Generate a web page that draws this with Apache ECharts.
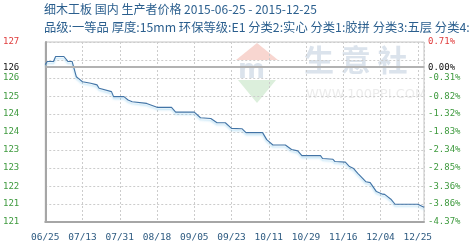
<!DOCTYPE html>
<html><head><meta charset="utf-8">
<script src="https://cdn.jsdelivr.net/npm/echarts@6/dist/echarts.min.js"></script>
<style>html,body{margin:0;padding:0;background:#fff}#c{width:471px;height:252px}</style>
</head><body><div id="c"></div>
<script>
const titleText = '细木工板 国内 生产者价格 2015-06-25 - 2015-12-25';
const subText = '品级:一等品 厚度:15mm 环保等级:E1 分类2:实心 分类1:胶拼 分类3:五层 分类4:';

// x: days since 2015-06-25
const xLabels = ['06/25','07/13','07/31','08/18','09/05','09/23','10/11','10/29','11/16','12/04','12/25'];
const days = [0,1,4,5,9,11,13,15,16,18,22,25,26,32,33,38,40,42,49,54,61,63,72,75,80,83,87,90,95,97,105,107,110,116,119,122,124,133,134,139,140,145,147,149,151,155,157,160,163,164,167,169,180,183];
const prices = [126.22,126.33,126.33,126.51,126.51,126.33,126.33,125.79,125.73,125.61,125.56,125.50,125.38,125.26,125.08,125.08,124.96,124.90,124.84,124.70,124.70,124.53,124.53,124.33,124.30,124.15,124.15,123.95,123.94,123.80,123.80,123.55,123.36,123.36,123.20,123.15,122.98,122.98,122.88,122.85,122.77,122.75,122.59,122.52,122.35,122.05,122.02,121.70,121.61,121.60,121.43,121.25,121.25,121.14];

// y tick labels
const basePrice = 126.13;
const baseLeftLabel = '126';
const baseRightLabel = '0.00%';
const labelPct = [-4.37,-3.86,-3.36,-2.85,-2.34,-1.83,-1.32,-0.82,-0.31,0.71];
const leftLabels = ['121','121','122','123','123','124','124','125','126','127'];
const rightLabels = ['-4.37%','-3.86%','-3.36%','-2.85%','-2.34%','-1.83%','-1.32%','-0.82%','-0.31%','0.71%'];
const pctMin = -4.37, pctMax = 0.71, gridSteps = 10;

const pMin = basePrice * (1 + pctMin / 100);
const pMax = basePrice * (1 + pctMax / 100);
const labelValues = labelPct.map(p => basePrice * (1 + p / 100));
const allLabelValues = labelValues.concat([basePrice]);

function labelFor(v, texts, baseText) {
  if (Math.abs(v - basePrice) < 1e-6) return '{b|' + baseText + '}';
  let best = 0, bd = Infinity;
  labelValues.forEach((lv, i) => { const d = Math.abs(lv - v); if (d < bd) { bd = d; best = i; } });
  const style = best === labelValues.length - 1 ? 'r' : 'g';
  return '{' + style + '|' + texts[best] + '}';
}
const monoFont = '"DejaVu Sans Mono", monospace';
const rich = {
  g: { color: '#3e9a3e', fontFamily: monoFont, fontSize: 9 },
  r: { color: '#e03c3c', fontFamily: monoFont, fontSize: 9 },
  b: { color: '#111', fontFamily: monoFont, fontSize: 9 }
};

const chart = echarts.init(document.getElementById('c'), null, { renderer: 'canvas' });
chart.setOption({
  animation: false,
  backgroundColor: '#fff',
  grid: { left: 44, right: 47, top: 42, height: 180, show: true, borderColor: '#c4c4c4', borderWidth: 1, backgroundColor: 'transparent' },
  graphic: [
    { type: 'text', left: 44, top: 3, z: 10, style: { text: titleText, fill: '#2b5f8e', font: '12px "Noto Sans CJK SC", sans-serif' } },
    { type: 'text', left: 44, top: 21, z: 10, style: { text: subText, fill: '#2b5f8e', font: '12.3px "Noto Sans CJK SC", sans-serif' } },
    // watermark
    { type: 'polygon', z: -1, shape: { points: [[257,43],[236,60],[278,60]] }, style: { fill: '#f8d6d0' } },
    { type: 'text', z: -1, x: 238, y: 58, style: { text: 'm', fill: '#dbe3ec', font: 'bold 26px "DejaVu Sans", sans-serif' } },
    { type: 'polygon', z: -1, shape: { points: [[238,80],[276,80],[257,103]] }, style: { fill: '#dcefdc' } },
    { type: 'text', z: -1, x: 304, y: 45, style: { text: '生 意 社', fill: '#dbe3ec', font: 'bold 30px "Noto Sans CJK SC", sans-serif' } },
    { type: 'text', z: -1, x: 306, y: 88, style: { text: 'WWW.100PPI.COM', fill: '#ececec', font: '13px "DejaVu Sans", sans-serif' } }
  ],
  xAxis: {
    type: 'value', min: 0, max: 183, interval: 18,
    axisLine: { show: true, lineStyle: { color: '#a6a6a6', width: 2 } },
    axisTick: { show: false },
    splitLine: { show: true, lineStyle: { color: '#cccccc', type: [2, 2], width: 1 } },
    axisLabel: {
      margin: 11, color: '#2d5a80', fontFamily: monoFont, fontSize: 9.5,
      showMinLabel: true, showMaxLabel: true,
      formatter: v => (v % 18 === 0 && xLabels[v / 18] !== undefined) ? xLabels[v / 18] : ''
    }
  },
  yAxis: [
    {
      type: 'value', min: pMin, max: pMax, position: 'left',
      axisLine: { show: true, lineStyle: { color: '#a6a6a6', width: 2 } },
      axisTick: { show: false }, splitLine: { show: false },
      axisLabel: { margin: 26, customValues: allLabelValues, formatter: v => labelFor(v, leftLabels, baseLeftLabel), rich: rich }
    },
    {
      type: 'value', min: pMin, max: pMax, position: 'right',
      axisLine: { show: false }, axisTick: { show: false }, splitLine: { show: false },
      axisLabel: { margin: 4, customValues: allLabelValues, formatter: v => labelFor(v, rightLabels, baseRightLabel), rich: rich }
    },
    {
      type: 'value', min: 0, max: gridSteps, interval: 1, position: 'left',
      axisLine: { show: false }, axisTick: { show: false }, axisLabel: { show: false },
      splitLine: { show: true, lineStyle: { color: '#cccccc', type: [2, 2], width: 1 } }
    }
  ],
  series: [{
    type: 'line', yAxisIndex: 0, showSymbol: false, silent: true,
    data: days.map((d, i) => [d, prices[i]]),
    lineStyle: { color: '#4274a6', width: 1.1, shadowColor: 'rgba(120,195,235,0.6)', shadowBlur: 2, shadowOffsetY: 2 },
    markLine: {
      silent: true, symbol: 'none', label: { show: false },
      lineStyle: { color: '#b2b2b2', width: 2, type: 'solid' },
      data: [{ yAxis: basePrice }]
    }
  }]
});
</script></body></html>
